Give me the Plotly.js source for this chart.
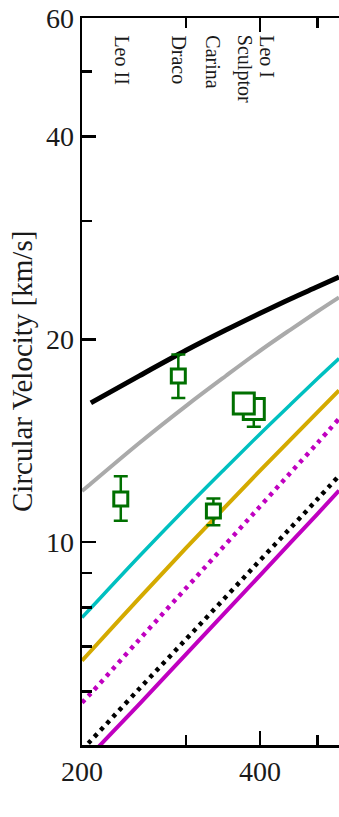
<!DOCTYPE html>
<html>
<head>
<meta charset="utf-8">
<script src="https://cdn.plot.ly/plotly-3.0.1.min.js"></script>
<style>html,body{margin:0;padding:0;background:#fff;}#chart{width:339px;height:817px;}</style>
</head>
<body>
<div id="chart"></div>
<script>
// Model curves (x = radius-like quantity, y = circular velocity in km/s)
const xModel = [200, 205, 250, 300, 350, 400, 450, 500, 544];
const xBlack = [207, 250, 300, 350, 400, 450, 500, 544];
const vBlack = [16.10, 17.66, 19.27, 20.65, 21.87, 22.97, 23.94, 24.75];
const vGray = [11.91, 12.13, 14.04, 15.94, 17.65, 19.24, 20.67, 22.0, 23.09];
const vCyan = [7.73, 7.91, 9.53, 11.25, 12.89, 14.48, 16.0, 17.48, 18.73];
const vGold = [6.67, 6.83, 8.26, 9.81, 11.3, 12.77, 14.19, 15.59, 16.8];
const vMagentaDot = [5.78, 5.91, 7.17, 8.55, 9.93, 11.3, 12.67, 14.03, 15.25];
const vBlackDot = [4.92, 5.03, 6.06, 7.18, 8.29, 9.40, 10.49, 11.58, 12.55];
const vMagenta = [4.64, 4.78, 5.75, 6.82, 7.88, 8.93, 9.98, 11.01, 11.93];

// Dwarf galaxies (Leo I before Sculptor so Sculptor sits on top)
const galaxies = ["Leo II", "Draco", "Carina", "Leo I", "Sculptor"];
const galX = [232.6, 291, 333.6, 390.4, 375.5];
const galV = [11.59, 17.65, 11.13, 15.77, 16.07];
const galErrPlus = [0.94, 1.35, 0.48, 0.4, 0.4];
const galErrMinus = [0.83, 1.28, 0.53, 0.93, 0.4];
const galSize = [14, 14, 14, 21, 21];

// Top labels
const labelText = ["Leo II", "Draco", "Carina", "Sculptor", "Leo I"];
const labelX = [233.8, 291.9, 333.3, 377.5, 411.5];

const serif = "Liberation Serif, DejaVu Serif, serif";

function line(x, y, color, width, dash) {
  return {x: x, y: y, type: "scatter", mode: "lines", hoverinfo: "skip",
    line: {color: color, width: width, dash: dash || "solid", shape: "spline", smoothing: 1},
    showlegend: false};
}

const traces = [
  line(xModel, vMagenta, "#c000c0", 4),
  line(xModel, vBlackDot, "#000000", 4.5, "4px,5px"),
  line(xModel, vMagentaDot, "#c000c0", 4.5, "4px,5px"),
  line(xModel, vGold, "#d4aa00", 4),
  line(xModel, vCyan, "#00c0c0", 3.5),
  line(xModel, vGray, "#aaaaaa", 4),
  line(xBlack, vBlack, "#000000", 5),
  {
    x: galX, y: galV, type: "scatter", mode: "markers", text: galaxies, showlegend: false,
    marker: {symbol: "square", size: galSize, opacity: 1, color: "#ffffff", line: {color: "#007000", width: 3}},
    error_y: {type: "data", symmetric: false, array: galErrPlus, arrayminus: galErrMinus,
      color: "#007000", thickness: 2.5, width: 7}
  }
];

const annotations = labelText.map((t, i) => ({
  x: Math.log10(labelX[i]), y: 1, xref: "x", yref: "paper",
  text: t, textangle: 90, showarrow: false,
  xanchor: "center", yanchor: "top", yshift: -15,
  font: {family: serif, size: 20, color: "#1a1a1a"}
}));
annotations.push({
  x: -0.2335, y: 0.5144, xref: "paper", yref: "paper",
  text: "Circular Velocity [km/s]", textangle: -90, showarrow: false,
  xanchor: "center", yanchor: "middle",
  font: {family: serif, size: 29, color: "#1a1a1a"}
});

const layout = {
  width: 339, height: 817,
  margin: {l: 82, r: 0, t: 18, b: 72, pad: 0},
  paper_bgcolor: "#ffffff", plot_bgcolor: "#ffffff",
  font: {family: serif, color: "#1a1a1a"},
  xaxis: {
    type: "log", range: [Math.log10(200), Math.log10(544)],
    tickmode: "array", tickvals: [200, 400], ticktext: ["200", "400"],
    ticks: "inside", ticklen: 14, tickwidth: 2.5, tickcolor: "#000",
    minor: {tickmode: "array", tickvals: [300, 500], ticks: "inside", ticklen: 10, tickwidth: 2.5, tickcolor: "#000"},
    showline: true, linecolor: "#000", linewidth: 2.5, mirror: "ticks",
    showgrid: false, zeroline: false,
    tickfont: {family: serif, size: 28, color: "#1a1a1a"}
  },
  yaxis: {
    type: "log", range: [Math.log10(5), Math.log10(60)],
    tickmode: "array", tickvals: [10, 20, 40, 60], ticktext: ["10", "20", "40", "60"],
    ticks: "inside", ticklen: 14, tickwidth: 2.5, tickcolor: "#000",
    minor: {tickmode: "array", tickvals: [6, 7, 8, 9, 30, 50], ticks: "inside", ticklen: 10, tickwidth: 2.5, tickcolor: "#000"},
    showline: true, linecolor: "#000", linewidth: 2.5,
    showgrid: false, zeroline: false,
    tickfont: {family: serif, size: 28, color: "#1a1a1a"}
  },
  annotations: annotations
};

Plotly.newPlot("chart", traces, layout, {staticPlot: true, displayModeBar: false});
</script>
</body>
</html>
